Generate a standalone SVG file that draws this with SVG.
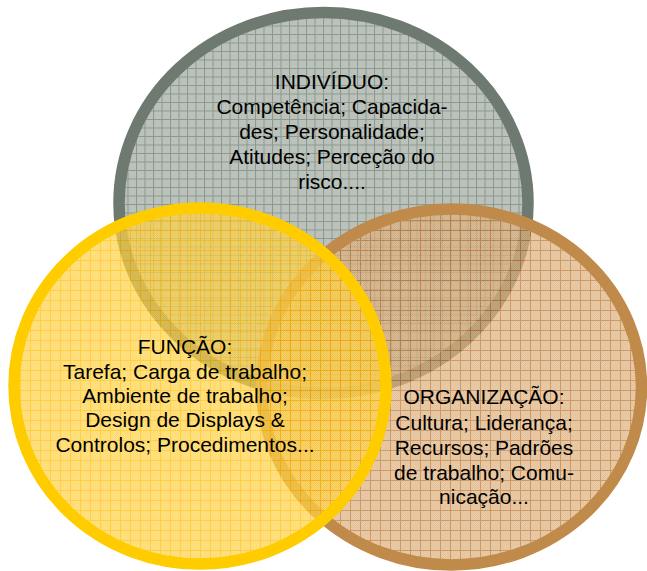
<svg xmlns="http://www.w3.org/2000/svg" width="647" height="571" viewBox="0 0 647 571">
<defs>
<pattern id="gchk" width="2" height="2" patternUnits="userSpaceOnUse">
<rect width="2" height="2" fill="#C2C9C2"/><rect width="1" height="1" fill="#B3BCB4"/><rect x="1" y="1" width="1" height="1" fill="#B3BCB4"/>
</pattern>
<pattern id="ychk" width="2" height="2" patternUnits="userSpaceOnUse">
<rect width="2" height="2" fill="#FFD858"/><rect width="1" height="1" fill="#FFCC38"/><rect x="1" y="1" width="1" height="1" fill="#FFCC38"/>
</pattern>
<pattern id="ochk" width="2" height="2" patternUnits="userSpaceOnUse">
<rect width="2" height="2" fill="#E2B888"/><rect width="1" height="1" fill="#D8AA76"/><rect x="1" y="1" width="1" height="1" fill="#D8AA76"/>
</pattern>
<pattern id="ggrid" width="8.5" height="8.5" patternUnits="userSpaceOnUse">
<rect width="8.5" height="8.5" fill="url(#gchk)"/>
<path d="M0 0.5H8.5M0.5 0V8.5" stroke="#8C988E" stroke-width="1" fill="none"/>
</pattern>
<pattern id="ygrid" width="10" height="10" patternUnits="userSpaceOnUse">
<rect width="10" height="10" fill="url(#ychk)"/>
<path d="M0 0.5H10M0.5 0V10" stroke="#FFBC00" stroke-width="1" fill="none"/>
</pattern>
<pattern id="ogrid" width="10" height="10" patternUnits="userSpaceOnUse">
<rect width="10" height="10" fill="url(#ochk)"/>
<path d="M0 0.5H10M0.5 0V10" stroke="#B9732E" stroke-width="1" fill="none"/>
</pattern>
<style>
text{font-family:"Liberation Sans",Arial,sans-serif;font-size:21px;fill:#000;text-anchor:middle}
.ring{fill:none;stroke-width:11.5}
</style>
</defs>
<rect width="647" height="571" fill="#fff"/>
<g id="individuo">
<ellipse cx="323.5" cy="203" rx="204.5" ry="190.5" fill="url(#ggrid)"/>
<ellipse class="ring" cx="323.5" cy="203" rx="204.5" ry="190.5" stroke="#6E7A70"/>
</g>
<g id="organizacao">
<ellipse cx="451.5" cy="387" rx="190" ry="178" fill="url(#ogrid)" opacity="0.72"/>
<ellipse class="ring" cx="451.5" cy="387" rx="190" ry="178" stroke="#C08A4A"/>
</g>
<g id="funcao">
<ellipse cx="200" cy="386" rx="186" ry="178" fill="url(#ygrid)" opacity="0.72"/>
<ellipse class="ring" cx="200" cy="386" rx="186" ry="178" stroke="#FFCC00"/>
</g>
<g id="labels">
<text x="332" y="89">INDIVÍDUO:</text>
<text x="332" y="113.5">Competência; Capacida-</text>
<text x="332" y="138.5">des; Personalidade;</text>
<text x="332" y="163.5">Atitudes; Perceção do</text>
<text x="332" y="188.5">risco....</text>
<text x="185" y="354">FUNÇÃO:</text>
<text x="185" y="378.5">Tarefa; Carga de trabalho;</text>
<text x="185" y="403">Ambiente de trabalho;</text>
<text x="185" y="427">Design de Displays &amp;</text>
<text x="185" y="451.5">Controlos; Procedimentos...</text>
<text x="484" y="404">ORGANIZAÇÃO:</text>
<text x="484" y="429.5">Cultura; Liderança;</text>
<text x="484" y="454.5">Recursos; Padrões</text>
<text x="484" y="479.5">de trabalho; Comu-</text>
<text x="484" y="504">nicação...</text>
</g>
</svg>
